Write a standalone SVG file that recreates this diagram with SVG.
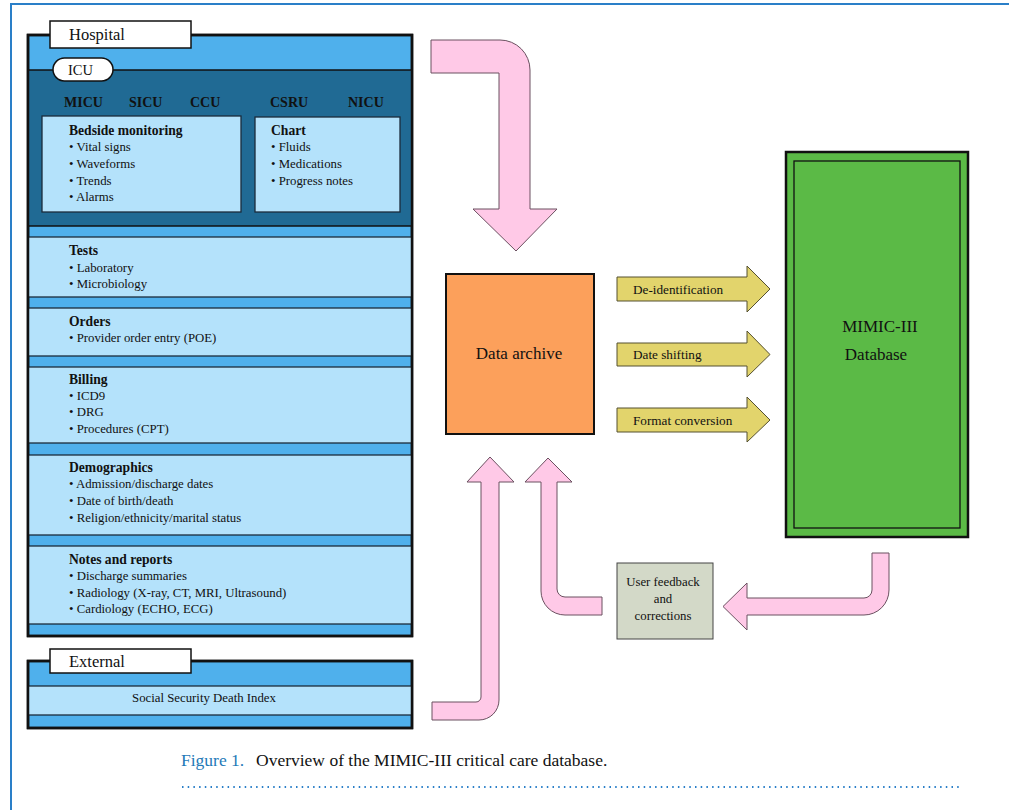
<svg xmlns="http://www.w3.org/2000/svg" width="1009" height="810" viewBox="0 0 1009 810">
<style>
text{font-family:"Liberation Serif","Times New Roman",serif;fill:#111}
.t{font-size:12.8px}
.b{font-size:13.6px;font-weight:bold}
.u{font-size:14px;font-weight:bold}
.y{font-size:13.2px}
.lbl{fill:#fff;stroke:#111;stroke-width:1.5}
.band{fill:#4fb0ec}
.sec{fill:#b4e2fb;stroke:#1b2b3b;stroke-width:1.3}
.pink{fill:#ffc9e7;stroke:#6b5060;stroke-width:1}
.yel{fill:#e2d46c;stroke:#555030;stroke-width:1}
</style>
<rect x="11" y="4" width="1010" height="830" fill="#fff" stroke="#2a7fc8" stroke-width="2"/>

<g id="hospital">
<rect x="28" y="35" width="384" height="601" class="band" stroke="#111" stroke-width="2.5"/>
<rect x="28" y="70" width="384" height="156" fill="#206a94" stroke="#111" stroke-width="1.5"/>
<text x="64" y="107" class="u">MICU</text>
<text x="129" y="107" class="u">SICU</text>
<text x="190" y="107" class="u">CCU</text>
<text x="270" y="107" class="u">CSRU</text>
<text x="348" y="107" class="u">NICU</text>
<g id="bedside">
<rect x="42" y="116" width="199" height="96" class="sec"/>
<text x="69" y="135" class="b">Bedside monitoring</text>
<text x="69" y="151" class="t">• Vital signs</text>
<text x="69" y="168" class="t">• Waveforms</text>
<text x="69" y="185" class="t">• Trends</text>
<text x="69" y="201" class="t">• Alarms</text>
</g>
<g id="chart">
<rect x="255" y="117" width="145" height="95" class="sec"/>
<text x="271" y="135" class="b">Chart</text>
<text x="271" y="151" class="t">• Fluids</text>
<text x="271" y="168" class="t">• Medications</text>
<text x="271" y="185" class="t">• Progress notes</text>
</g>
<g id="tests">
<rect x="28" y="237" width="384" height="60" class="sec"/>
<text x="69" y="255" class="b">Tests</text>
<text x="69" y="272" class="t">• Laboratory</text>
<text x="69" y="288" class="t">• Microbiology</text>
</g>
<g id="orders">
<rect x="28" y="308" width="384" height="48" class="sec"/>
<text x="69" y="326" class="b">Orders</text>
<text x="69" y="342" class="t">• Provider order entry (POE)</text>
</g>
<g id="billing">
<rect x="28" y="367" width="384" height="76" class="sec"/>
<text x="69" y="384" class="b">Billing</text>
<text x="69" y="400" class="t">• ICD9</text>
<text x="69" y="416" class="t">• DRG</text>
<text x="69" y="433" class="t">• Procedures (CPT)</text>
</g>
<g id="demographics">
<rect x="28" y="455" width="384" height="80" class="sec"/>
<text x="69" y="472" class="b">Demographics</text>
<text x="69" y="488" class="t">• Admission/discharge dates</text>
<text x="69" y="505" class="t">• Date of birth/death</text>
<text x="69" y="522" class="t">• Religion/ethnicity/marital status</text>
</g>
<g id="notes">
<rect x="28" y="546" width="384" height="78" class="sec"/>
<text x="69" y="564" class="b">Notes and reports</text>
<text x="69" y="580" class="t">• Discharge summaries</text>
<text x="69" y="597" class="t">• Radiology (X-ray, CT, MRI, Ultrasound)</text>
<text x="69" y="613" class="t">• Cardiology (ECHO, ECG)</text>
</g>
<rect x="28" y="35" width="384" height="601" fill="none" stroke="#111" stroke-width="2.5"/>
<rect x="50" y="21" width="141" height="27" class="lbl"/>
<text x="69" y="40" style="font-size:16.5px">Hospital</text>
<rect x="53" y="58" width="60" height="23" rx="11.5" class="lbl"/>
<text x="68" y="75" style="font-size:14.5px">ICU</text>
</g>

<g id="external">
<rect x="28" y="661" width="384" height="67" class="band" stroke="#111" stroke-width="2.5"/>
<rect x="28" y="686" width="384" height="29" class="sec"/>
<rect x="28" y="661" width="384" height="67" fill="none" stroke="#111" stroke-width="2.5"/>
<rect x="50" y="649" width="141" height="24" class="lbl"/>
<text x="69" y="667" style="font-size:16.5px">External</text>
<text x="204" y="702" class="t" text-anchor="middle">Social Security Death Index</text>
</g>

<g id="archive">
<rect x="446" y="274" width="148" height="160" fill="#fca05b" stroke="#111" stroke-width="2"/>
<text x="519" y="359" style="font-size:17px" text-anchor="middle">Data archive</text>
</g>

<g id="mimic">
<rect x="786" y="152" width="182" height="385" fill="#5bba46" stroke="#111" stroke-width="2.5"/>
<rect x="794" y="161" width="166" height="367" fill="none" stroke="#111" stroke-width="1.3"/>
<text x="880" y="332" style="font-size:17px" text-anchor="middle">MIMIC-III</text>
<text x="876" y="360" style="font-size:17px" text-anchor="middle">Database</text>
</g>

<g id="feedback">
<rect x="617" y="563" width="96" height="76" fill="#d3d9c8" stroke="#444" stroke-width="1"/>
<text x="663" y="586" class="t" text-anchor="middle">User feedback</text>
<text x="663" y="603" class="t" text-anchor="middle">and</text>
<text x="663" y="620" class="t" text-anchor="middle">corrections</text>
</g>

<g id="connectors">
<path class="pink" d="M431,40 H500 A30,30 0 0 1 530,70 V209 H557 L516,251 L473,209 H499 V73 H431 Z"/>
<path class="pink" d="M490,457 L514,482 H499 V700 A20,20 0 0 1 479,720 H432 V702 H476 A5,5 0 0 0 481,697 V482 H467 Z"/>
<path class="pink" d="M548,458 L572,482 H557 V589 A8,8 0 0 0 565,597 H602 V615 H565 A24,24 0 0 1 541,591 V482 H525 Z"/>
<path class="pink" d="M872,553 H889 V590 A25,25 0 0 1 864,615 H747 V630 L723,606.5 L747,583 V598 H864 A8,8 0 0 0 872,590 Z"/>
<g id="deid">
<path class="yel" d="M617,277 H747 V266 L770,289 L747,312 V301 H617 Z"/>
<text x="633" y="294" class="y">De-identification</text>
</g>
<g id="dateshift">
<path class="yel" d="M617,343 H747 V331 L770,354.5 L747,377 V366 H617 Z"/>
<text x="633" y="359" class="y">Date shifting</text>
</g>
<g id="format">
<path class="yel" d="M617,408 H747 V397 L770,420 L747,442 V432 H617 Z"/>
<text x="633" y="425" class="y">Format conversion</text>
</g>
</g>

<g id="caption">
<text x="181" y="766" style="font-size:17.5px;fill:#1f7ab8">Figure 1.</text>
<text x="256" y="766" style="font-size:17.5px">Overview of the MIMIC-III critical care database.</text>
<line x1="182" y1="787" x2="962" y2="787" stroke="#2a7fc8" stroke-width="2" stroke-dasharray="1.5 4.2"/>
</g>
</svg>
